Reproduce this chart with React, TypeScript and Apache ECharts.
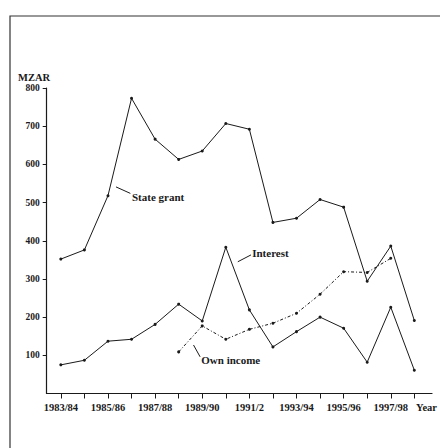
import React, { useEffect, useRef } from 'react';
import * as echarts from 'echarts';

const years = ['1983/84', '1984/85', '1985/86', '1986/87', '1987/88', '1988/89', '1989/90', '1990/91', '1991/92', '1992/93', '1993/94', '1994/95', '1995/96', '1996/97', '1997/98', '1998/99'];
const yearLabels = ['1983/84', '1985/86', '1987/88', '1989/90', '1991/2', '1993/94', '1995/96', '1997/98'];
const labelledYearIdx = [0, 2, 4, 6, 8, 10, 12, 14];
const stateGrant = [352, 376, 518, 773, 666, 613, 635, 707, 692, 448, 459, 508, 488, 294, 386, 191];
const interest = [75, 87, 137, 142, 181, 234, 190, 383, 219, 122, 162, 200, 171, 82, 226, 61];
const ownIncome: (number | null)[] = [null, null, null, null, null, 109, 177, 142, 168, 184, 210, 260, 319, 317, 354, null];
const unitLabel = 'MZAR';

// annotation anchors in data space: [leader start, leader end, text start]
const annotations = [
  { text: 'State grant', from: [2.34, 541], to: [2.95, 524], at: [3.02, 514] },
  { text: 'Interest', from: [7.51, 345], to: [8.07, 363], at: [8.12, 368] },
  { text: 'Own income', from: [5.63, 127], to: [5.91, 96], at: [5.96, 88] },
];

const X_MIN = -0.6;
const X_MAX = 15.75;
const Y_MAX = 800;

const FONT = '"Liberation Serif", "DejaVu Serif", serif';
const INK = '#1a1a1a';

const toPairs = (arr: (number | null)[]) =>
  arr.map((v, i) => (v == null ? null : [i, v])).filter((p) => p !== null) as number[][];

export default function App() {
  const ref = useRef<HTMLDivElement>(null);
  useEffect(() => {
    if (!ref.current) return;
    const chart = echarts.init(ref.current, undefined, { renderer: 'svg' });
    const lineBase = {
      type: 'line' as const,
      symbol: 'circle',
      symbolSize: 3,
      itemStyle: { color: INK },
      lineStyle: { color: INK, width: 1 },
      silent: true,
    };
    chart.setOption({
      animation: false,
      backgroundColor: '#ffffff',
      grid: { left: 46.7, right: 7, top: 88, bottom: 54.5 },
      xAxis: {
        type: 'value',
        min: X_MIN,
        max: X_MAX,
        name: 'Year',
        nameLocation: 'end',
        nameGap: -16,
        nameTextStyle: {
          fontFamily: FONT, fontWeight: 'bold', fontSize: 10.5, color: INK,
          align: 'left', verticalAlign: 'top', padding: [8, 0, 0, 0],
        },
        splitLine: { show: false },
        axisLine: { onZero: false, lineStyle: { color: INK, width: 1.2 } },
        axisTick: { show: true, length: 5, customValues: years.map((_, i) => i), lineStyle: { color: INK } },
        axisLabel: {
          customValues: labelledYearIdx,
          formatter: (v: number) => {
            const k = labelledYearIdx.indexOf(Math.round(v));
            return k >= 0 ? yearLabels[k] : '';
          },
          margin: 8,
          fontFamily: FONT, fontWeight: 'bold', fontSize: 10.5, color: INK,
        },
      },
      yAxis: {
        type: 'value',
        min: 0,
        max: Y_MAX,
        interval: 100,
        splitLine: { show: false },
        axisLine: { show: true, onZero: false, lineStyle: { color: INK, width: 1.2 } },
        axisTick: { show: true, length: 4, lineStyle: { color: INK } },
        axisLabel: {
          showMinLabel: false,
          margin: 7,
          fontFamily: FONT, fontWeight: 'bold', fontSize: 9.5, color: INK,
        },
      },
      series: [
        { ...lineBase, name: 'State grant', data: toPairs(stateGrant) },
        { ...lineBase, name: 'Interest', data: toPairs(interest) },
        { ...lineBase, name: 'Own income', data: toPairs(ownIncome), lineStyle: { color: INK, width: 1, type: [3, 2, 1, 2] } },
      ],
    });

    const px = (p: number[]) => chart.convertToPixel({ xAxisIndex: 0, yAxisIndex: 0 }, p) as number[];
    const top = px([X_MIN, Y_MAX]);
    const graphic: any[] = [
      {
        type: 'rect',
        shape: { x: 10, y: 16, width: 440, height: 450 },
        style: { fill: 'none', stroke: '#333', lineWidth: 1.2 },
        silent: true,
      },
      {
        type: 'text',
        style: {
          text: unitLabel, x: top[0] + 3.5, y: top[1] - 11,
          fontFamily: FONT, fontWeight: 'bold', fontSize: 10.5, fill: INK,
          align: 'right', verticalAlign: 'middle',
        },
        silent: true,
      },
    ];
    annotations.forEach((a) => {
      const f = px(a.from);
      const t = px(a.to);
      const at = px(a.at);
      graphic.push({
        type: 'line',
        shape: { x1: f[0], y1: f[1], x2: t[0], y2: t[1] },
        style: { stroke: INK, lineWidth: 1 },
        silent: true,
      });
      graphic.push({
        type: 'text',
        style: {
          text: a.text, x: at[0], y: at[1],
          fontFamily: FONT, fontWeight: 'bold', fontSize: 11, fill: INK,
          align: 'left', verticalAlign: 'middle',
        },
        silent: true,
      });
    });
    chart.setOption({ graphic });

    return () => chart.dispose();
  }, []);
  return <div ref={ref} style={{ position: 'absolute', left: 0, top: 0, width: 440, height: 448 }} />;
}
